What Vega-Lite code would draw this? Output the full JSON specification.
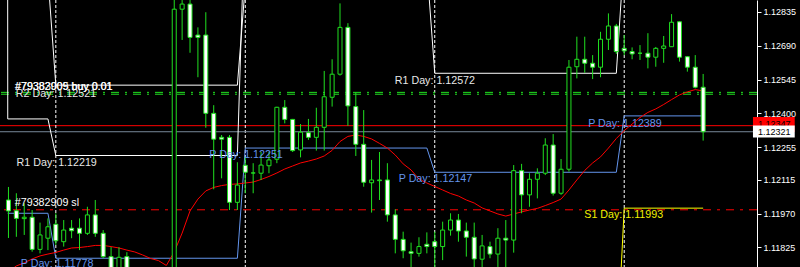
{
"$schema":"https://vega.github.io/schema/vega-lite/v6.json",
"width":757,"height":267,
"autosize":{"type":"none"},
"padding":{"left":0,"top":0,"right":43,"bottom":0},
"background":"#000000",
"view":{"stroke":null},
"config":{"axisY":{"domainColor":"#ffffff","tickColor":"#ffffff","labelColor":"#ffffff","labelFont":"Liberation Sans","labelFontSize":9,"tickSize":4,"labelPadding":2,"grid":false,"labelOverlap":false,"labelFlush":false,"labelBound":false,"domainWidth":1,"tickWidth":1}},
"datasets":{
"seps":[{"k":6},{"k":30},{"k":54},{"k":78}],
"levels":[{"level":"ask","p":1.12347},{"level":"bid","p":1.12321},{"level":"order","p":1.12490},{"level":"order","p":1.12482},{"level":"sl","p":1.11986}],
"pivots":[
{"s":"R1","k":-0.1,"p":1.1300},{"s":"R1","k":-0.09,"p":1.12376},{"s":"R1","k":5,"p":1.12376},{"s":"R1","k":6,"p":1.12219},{"s":"R1","k":29,"p":1.12219},{"s":"R1","k":30,"p":1.1330},{"s":"R1","k":53,"p":1.1303},{"s":"R1","k":54,"p":1.12572},{"s":"R1","k":77,"p":1.12572},{"s":"R1","k":78,"p":1.1309},
{"s":"R2","k":5,"p":1.12987},{"s":"R2","k":6,"p":1.12521},{"s":"R2","k":29,"p":1.12521},{"s":"R2","k":30,"p":1.1295},
{"s":"P","k":-0.1,"p":1.11971},{"s":"P","k":5,"p":1.11971},{"s":"P","k":6,"p":1.11778},{"s":"P","k":29,"p":1.11778},{"s":"P","k":30,"p":1.12251},{"s":"P","k":53,"p":1.12251},{"s":"P","k":54,"p":1.12147},{"s":"P","k":77,"p":1.12147},{"s":"P","k":78,"p":1.12389},{"s":"P","k":88,"p":1.12389},
{"s":"S1","k":77,"p":1.1132},{"s":"S1","k":78,"p":1.11993},{"s":"S1","k":88,"p":1.11993}],
"ma":[{"k":0,"p":1.11719},{"k":1,"p":1.11745},{"k":2,"p":1.11758},{"k":3,"p":1.11775},{"k":4,"p":1.11788},{"k":5,"p":1.11796},{"k":6,"p":1.11803},{"k":7,"p":1.11813},{"k":8,"p":1.11822},{"k":9,"p":1.11824},{"k":10,"p":1.11828},{"k":11,"p":1.11833},{"k":12,"p":1.11833},{"k":13,"p":1.11828},{"k":14,"p":1.11822},{"k":15,"p":1.11813},{"k":16,"p":1.11805},{"k":17,"p":1.11792},{"k":18,"p":1.11777},{"k":19,"p":1.11768},{"k":20,"p":1.11747},{"k":21,"p":1.11805},{"k":22,"p":1.11886},{"k":23,"p":1.11981},{"k":24,"p":1.12032},{"k":25,"p":1.12067},{"k":26,"p":1.12082},{"k":27,"p":1.12090},{"k":28,"p":1.12095},{"k":29,"p":1.12097},{"k":30,"p":1.12101},{"k":31,"p":1.12105},{"k":32,"p":1.12116},{"k":33,"p":1.12129},{"k":34,"p":1.12144},{"k":35,"p":1.12161},{"k":36,"p":1.12174},{"k":37,"p":1.12187},{"k":38,"p":1.12195},{"k":39,"p":1.12204},{"k":40,"p":1.12217},{"k":41,"p":1.12241},{"k":42,"p":1.12279},{"k":43,"p":1.12301},{"k":44,"p":1.12307},{"k":45,"p":1.12301},{"k":46,"p":1.12290},{"k":47,"p":1.12271},{"k":48,"p":1.12251},{"k":49,"p":1.12221},{"k":50,"p":1.12183},{"k":51,"p":1.12157},{"k":52,"p":1.12118},{"k":53,"p":1.12101},{"k":54,"p":1.12086},{"k":55,"p":1.12071},{"k":56,"p":1.12056},{"k":57,"p":1.12045},{"k":58,"p":1.12028},{"k":59,"p":1.12015},{"k":60,"p":1.11994},{"k":61,"p":1.11981},{"k":62,"p":1.11968},{"k":63,"p":1.11959},{"k":64,"p":1.11968},{"k":65,"p":1.11977},{"k":66,"p":1.11985},{"k":67,"p":1.11992},{"k":68,"p":1.12004},{"k":69,"p":1.12017},{"k":70,"p":1.12032},{"k":71,"p":1.12071},{"k":72,"p":1.12114},{"k":73,"p":1.12155},{"k":74,"p":1.12187},{"k":75,"p":1.12213},{"k":76,"p":1.12251},{"k":77,"p":1.12292},{"k":78,"p":1.12326},{"k":79,"p":1.12354},{"k":80,"p":1.12382},{"k":81,"p":1.12404},{"k":82,"p":1.12419},{"k":83,"p":1.12438},{"k":84,"p":1.12459},{"k":85,"p":1.12479},{"k":86,"p":1.12492},{"k":87,"p":1.12502},{"k":88,"p":1.12496}],
"candles":[
{"k":0,"o":1.12028,"h":1.12084,"l":1.11865,"c":1.11981},
{"k":1,"o":1.11982,"h":1.12057,"l":1.11870,"c":1.11949},
{"k":2,"o":1.11948,"h":1.12014,"l":1.11878,"c":1.11954},
{"k":3,"o":1.11954,"h":1.11985,"l":1.11806,"c":1.11816},
{"k":4,"o":1.11816,"h":1.11931,"l":1.11799,"c":1.11878},
{"k":5,"o":1.11864,"h":1.11949,"l":1.11813,"c":1.11913},
{"k":6,"o":1.11924,"h":1.11971,"l":1.11835,"c":1.11853},
{"k":7,"o":1.11849,"h":1.11942,"l":1.11828,"c":1.11899},
{"k":8,"o":1.11907,"h":1.11942,"l":1.11864,"c":1.11896},
{"k":9,"o":1.11907,"h":1.11949,"l":1.11813,"c":1.11885},
{"k":10,"o":1.11885,"h":1.11999,"l":1.11878,"c":1.11964},
{"k":11,"o":1.11964,"h":1.12028,"l":1.11870,"c":1.11885},
{"k":12,"o":1.11885,"h":1.11899,"l":1.11778,"c":1.11785},
{"k":13,"o":1.11785,"h":1.11826,"l":1.11719,"c":1.11736},
{"k":14,"o":1.11736,"h":1.11825,"l":1.11719,"c":1.11782},
{"k":15,"o":1.11785,"h":1.11804,"l":1.11719,"c":1.11736},
{"k":16,"o":1.11736,"h":1.11738,"l":1.11660,"c":1.11690},
{"k":17,"o":1.11690,"h":1.11720,"l":1.11640,"c":1.11700},
{"k":18,"o":1.11700,"h":1.11725,"l":1.11620,"c":1.11650},
{"k":19,"o":1.11650,"h":1.11700,"l":1.11600,"c":1.11680},
{"k":20,"o":1.11680,"h":1.11710,"l":1.11580,"c":1.11620},
{"k":21,"o":1.11620,"h":1.12895,"l":1.11600,"c":1.12847},
{"k":22,"o":1.12847,"h":1.12895,"l":1.12715,"c":1.12869},
{"k":23,"o":1.12869,"h":1.12890,"l":1.12660,"c":1.12726},
{"k":24,"o":1.12736,"h":1.12769,"l":1.12555,"c":1.12726},
{"k":25,"o":1.12736,"h":1.12834,"l":1.12338,"c":1.12400},
{"k":26,"o":1.12400,"h":1.12435,"l":1.12074,"c":1.12289},
{"k":27,"o":1.12297,"h":1.12307,"l":1.12121,"c":1.12289},
{"k":28,"o":1.12297,"h":1.12307,"l":1.11985,"c":1.12018},
{"k":29,"o":1.12018,"h":1.12190,"l":1.11985,"c":1.12092},
{"k":30,"o":1.12177,"h":1.12214,"l":1.12057,"c":1.12147},
{"k":31,"o":1.12144,"h":1.12186,"l":1.12057,"c":1.12144},
{"k":32,"o":1.12143,"h":1.12235,"l":1.12114,"c":1.12178},
{"k":33,"o":1.12175,"h":1.12235,"l":1.12143,"c":1.12200},
{"k":34,"o":1.12203,"h":1.12428,"l":1.12186,"c":1.12426},
{"k":35,"o":1.12426,"h":1.12457,"l":1.12357,"c":1.12374},
{"k":36,"o":1.12374,"h":1.12376,"l":1.12234,"c":1.12240},
{"k":37,"o":1.12243,"h":1.12354,"l":1.12211,"c":1.12319},
{"k":38,"o":1.12317,"h":1.12376,"l":1.12286,"c":1.12297},
{"k":39,"o":1.12297,"h":1.12424,"l":1.12240,"c":1.12340},
{"k":40,"o":1.12340,"h":1.12582,"l":1.12240,"c":1.12471},
{"k":41,"o":1.12469,"h":1.12632,"l":1.12429,"c":1.12568},
{"k":42,"o":1.12568,"h":1.12872,"l":1.12562,"c":1.12769},
{"k":43,"o":1.12769,"h":1.12787,"l":1.12346,"c":1.12432},
{"k":44,"o":1.12429,"h":1.12489,"l":1.12217,"c":1.12267},
{"k":45,"o":1.12267,"h":1.12414,"l":1.12085,"c":1.12104},
{"k":46,"o":1.12102,"h":1.12200,"l":1.11974,"c":1.12114},
{"k":47,"o":1.12111,"h":1.12234,"l":1.12028,"c":1.12114},
{"k":48,"o":1.12114,"h":1.12186,"l":1.11935,"c":1.11964},
{"k":49,"o":1.11964,"h":1.11988,"l":1.11799,"c":1.11859},
{"k":50,"o":1.11859,"h":1.11892,"l":1.11778,"c":1.11810},
{"k":51,"o":1.11806,"h":1.11845,"l":1.11728,"c":1.11799},
{"k":52,"o":1.11799,"h":1.11868,"l":1.11785,"c":1.11828},
{"k":53,"o":1.11838,"h":1.11889,"l":1.11799,"c":1.11828},
{"k":54,"o":1.11849,"h":1.11892,"l":1.11728,"c":1.11828},
{"k":55,"o":1.11828,"h":1.11935,"l":1.11770,"c":1.11899},
{"k":56,"o":1.11899,"h":1.11971,"l":1.11875,"c":1.11942},
{"k":57,"o":1.11942,"h":1.11968,"l":1.11849,"c":1.11895},
{"k":58,"o":1.11895,"h":1.11931,"l":1.11785,"c":1.11868},
{"k":59,"o":1.11868,"h":1.11931,"l":1.11728,"c":1.11775},
{"k":60,"o":1.11774,"h":1.11878,"l":1.11728,"c":1.11831},
{"k":61,"o":1.11828,"h":1.11849,"l":1.11778,"c":1.11796},
{"k":62,"o":1.11796,"h":1.11907,"l":1.11728,"c":1.11864},
{"k":63,"o":1.11864,"h":1.11942,"l":1.11728,"c":1.11856},
{"k":64,"o":1.11856,"h":1.12178,"l":1.11802,"c":1.12154},
{"k":65,"o":1.12154,"h":1.12183,"l":1.11971,"c":1.12050},
{"k":66,"o":1.12050,"h":1.12143,"l":1.11999,"c":1.12117},
{"k":67,"o":1.12117,"h":1.12164,"l":1.12035,"c":1.12143},
{"k":68,"o":1.12143,"h":1.12293,"l":1.12135,"c":1.12264},
{"k":69,"o":1.12264,"h":1.12311,"l":1.12047,"c":1.12057},
{"k":70,"o":1.12057,"h":1.12204,"l":1.12050,"c":1.12160},
{"k":71,"o":1.12160,"h":1.12629,"l":1.12150,"c":1.12598},
{"k":72,"o":1.12600,"h":1.12729,"l":1.12550,"c":1.12632},
{"k":73,"o":1.12632,"h":1.12729,"l":1.12574,"c":1.12615},
{"k":74,"o":1.12615,"h":1.12650,"l":1.12547,"c":1.12598},
{"k":75,"o":1.12598,"h":1.12750,"l":1.12555,"c":1.12718},
{"k":76,"o":1.12718,"h":1.12829,"l":1.12672,"c":1.12775},
{"k":77,"o":1.12775,"h":1.12784,"l":1.12655,"c":1.12665},
{"k":78,"o":1.12679,"h":1.12736,"l":1.12650,"c":1.12668},
{"k":79,"o":1.12665,"h":1.12683,"l":1.12632,"c":1.12655},
{"k":80,"o":1.12658,"h":1.12693,"l":1.12629,"c":1.12658},
{"k":81,"o":1.12658,"h":1.12744,"l":1.12593,"c":1.12641},
{"k":82,"o":1.12641,"h":1.12685,"l":1.12600,"c":1.12679},
{"k":83,"o":1.12679,"h":1.12732,"l":1.12617,"c":1.12689},
{"k":84,"o":1.12686,"h":1.12826,"l":1.12686,"c":1.12791},
{"k":85,"o":1.12793,"h":1.12795,"l":1.12622,"c":1.12641},
{"k":86,"o":1.12643,"h":1.12645,"l":1.12579,"c":1.12598},
{"k":87,"o":1.12598,"h":1.12650,"l":1.12507,"c":1.12512},
{"k":88,"o":1.12512,"h":1.12569,"l":1.12283,"c":1.12321}],
"labels":[
{"kind":"R","t":"R2 Day: 1.12521","k":0.94,"p":1.12483},
{"kind":"order","t":"#79382909 buy 0.01","k":0.81,"p":1.12513},
{"kind":"order","t":"#79383005 buy 0.01","k":0.86,"p":1.12511},
{"kind":"R","t":"R1 Day: 1.12219","k":1.03,"p":1.12186},
{"kind":"order","t":"#79382909 sl","k":0.81,"p":1.12013},
{"kind":"P","t":"P Day: 1.11778","k":1.56,"p":1.11753},
{"kind":"P","t":"P Day: 1.12251","k":25.44,"p":1.12221},
{"kind":"P","t":"P Day: 1.12147","k":49.44,"p":1.12118},
{"kind":"P","t":"P Day: 1.12389","k":73.44,"p":1.12353},
{"kind":"R","t":"R1 Day: 1.12572","k":48.94,"p":1.12540},
{"kind":"S","t":"S1 Day: 1.11993","k":72.94,"p":1.11964}],
"tags":[
{"tag":"ask","k1":94.31,"k2":99.6,"p1":1.12384,"p2":1.12320,"t":"1.12347","tk":94.94,"tp":1.12356},
{"tag":"bid","k1":94.31,"k2":99.6,"p1":1.12348,"p2":1.12296,"t":"1.12321","tk":94.94,"tp":1.12321}]
},
"layer":[
{"data":{"name":"levels"},"transform":[{"filter":"datum.level=='ask'"}],"mark":{"type":"rule","color":"#ff0000","strokeWidth":1},
 "encoding":{"y":{"field":"p","type":"quantitative","scale":{"domain":[1.117404,1.128865],"nice":false,"zero":false},"axis":{"orient":"right","title":null,"values":[1.12835,1.1269,1.12545,1.124,1.12255,1.12115,1.1197,1.11825],"format":".5f","labelOverlap":false,"labelFlush":false,"labelBound":false,"tickCount":8}}}},
{"data":{"name":"seps"},"mark":{"type":"rule","color":"#ffffff","strokeDash":[3,2],"strokeWidth":1},
 "encoding":{"x":{"field":"k","type":"quantitative","scale":{"domain":[-0.4375,94.1875],"nice":false,"zero":false},"axis":null}}},
{"data":{"name":"levels"},"transform":[{"filter":"datum.level=='bid'"}],"mark":{"type":"rule","color":"#778899","strokeWidth":1},
 "encoding":{"y":{"field":"p","type":"quantitative","scale":{"domain":[1.117404,1.128865],"nice":false,"zero":false}}}},
{"data":{"name":"levels"},"transform":[{"filter":"datum.level=='order'"}],"mark":{"type":"rule","color":"#20e020","strokeWidth":1,"strokeDash":[8,6,2,6]},
 "encoding":{"y":{"field":"p","type":"quantitative","scale":{"domain":[1.117404,1.128865],"nice":false,"zero":false}}}},
{"data":{"name":"levels"},"transform":[{"filter":"datum.level=='sl'"}],"mark":{"type":"rule","color":"#ff0000","strokeWidth":1,"strokeDash":[8,6,3,6]},
 "encoding":{"y":{"field":"p","type":"quantitative","scale":{"domain":[1.117404,1.128865],"nice":false,"zero":false}}}},
{"data":{"name":"pivots"},"transform":[{"filter":"datum.s=='R1' || datum.s=='R2'"}],"mark":{"type":"line","color":"#ffffff","strokeWidth":1,"clip":true},
 "encoding":{"x":{"field":"k","type":"quantitative","scale":{"domain":[-0.4375,94.1875],"nice":false,"zero":false},"axis":null},
 "y":{"field":"p","type":"quantitative","scale":{"domain":[1.117404,1.128865],"nice":false,"zero":false}},"detail":{"field":"s"},"order":{"field":"k","type":"quantitative"}}},
{"data":{"name":"pivots"},"transform":[{"filter":"datum.s=='P'"}],"mark":{"type":"line","color":"#6495ed","strokeWidth":1,"clip":true},
 "encoding":{"x":{"field":"k","type":"quantitative","scale":{"domain":[-0.4375,94.1875],"nice":false,"zero":false},"axis":null},
 "y":{"field":"p","type":"quantitative","scale":{"domain":[1.117404,1.128865],"nice":false,"zero":false}},"order":{"field":"k","type":"quantitative"}}},
{"data":{"name":"pivots"},"transform":[{"filter":"datum.s=='S1'"}],"mark":{"type":"line","color":"#ffff00","strokeWidth":1,"clip":true},
 "encoding":{"x":{"field":"k","type":"quantitative","scale":{"domain":[-0.4375,94.1875],"nice":false,"zero":false},"axis":null},
 "y":{"field":"p","type":"quantitative","scale":{"domain":[1.117404,1.128865],"nice":false,"zero":false}},"order":{"field":"k","type":"quantitative"}}},
{"data":{"name":"ma"},"mark":{"type":"line","color":"#ff0000","strokeWidth":1,"clip":true},
 "encoding":{"x":{"field":"k","type":"quantitative","scale":{"domain":[-0.4375,94.1875],"nice":false,"zero":false},"axis":null},
 "y":{"field":"p","type":"quantitative","scale":{"domain":[1.117404,1.128865],"nice":false,"zero":false}}}},
{"data":{"name":"candles"},"mark":{"type":"rule","color":"#20e020","strokeWidth":1,"clip":true},
 "encoding":{"x":{"field":"k","type":"quantitative","scale":{"domain":[-0.4375,94.1875],"nice":false,"zero":false},"axis":null},
 "y":{"field":"l","type":"quantitative","scale":{"domain":[1.117404,1.128865],"nice":false,"zero":false}},"y2":{"field":"h"}}},
{"data":{"name":"candles"},"transform":[{"filter":"datum.c < datum.o"}],"mark":{"type":"bar","orient":"vertical","size":4,"fill":"#ffffff","stroke":"#20e020","strokeWidth":1,"clip":true},
 "encoding":{"x":{"field":"k","type":"quantitative","scale":{"domain":[-0.4375,94.1875],"nice":false,"zero":false},"axis":null},
 "y":{"field":"o","type":"quantitative","scale":{"domain":[1.117404,1.128865],"nice":false,"zero":false}},"y2":{"field":"c"}}},
{"data":{"name":"candles"},"transform":[{"filter":"datum.c >= datum.o"}],"mark":{"type":"bar","orient":"vertical","size":4,"fill":"#000000","stroke":"#20e020","strokeWidth":1,"clip":true},
 "encoding":{"x":{"field":"k","type":"quantitative","scale":{"domain":[-0.4375,94.1875],"nice":false,"zero":false},"axis":null},
 "y":{"field":"o","type":"quantitative","scale":{"domain":[1.117404,1.128865],"nice":false,"zero":false}},"y2":{"field":"c"}}},
{"data":{"name":"labels"},"transform":[{"filter":"datum.kind=='R'"}],"mark":{"type":"text","color":"#e8e8e8","font":"Liberation Sans","fontSize":10.7,"align":"left","baseline":"middle","clip":true},
 "encoding":{"x":{"field":"k","type":"quantitative","scale":{"domain":[-0.4375,94.1875],"nice":false,"zero":false},"axis":null},
 "y":{"field":"p","type":"quantitative","scale":{"domain":[1.117404,1.128865],"nice":false,"zero":false}},"text":{"field":"t"}}},
{"data":{"name":"labels"},"transform":[{"filter":"datum.kind=='order'"}],"mark":{"type":"text","color":"#ffffff","font":"Liberation Sans","fontSize":10.7,"align":"left","baseline":"middle","clip":true},
 "encoding":{"x":{"field":"k","type":"quantitative","scale":{"domain":[-0.4375,94.1875],"nice":false,"zero":false},"axis":null},
 "y":{"field":"p","type":"quantitative","scale":{"domain":[1.117404,1.128865],"nice":false,"zero":false}},"text":{"field":"t"}}},
{"data":{"name":"labels"},"transform":[{"filter":"datum.kind=='P'"}],"mark":{"type":"text","color":"#6495ed","font":"Liberation Sans","fontSize":10.7,"align":"left","baseline":"middle","clip":true},
 "encoding":{"x":{"field":"k","type":"quantitative","scale":{"domain":[-0.4375,94.1875],"nice":false,"zero":false},"axis":null},
 "y":{"field":"p","type":"quantitative","scale":{"domain":[1.117404,1.128865],"nice":false,"zero":false}},"text":{"field":"t"}}},
{"data":{"name":"labels"},"transform":[{"filter":"datum.kind=='S'"}],"mark":{"type":"text","color":"#f0f000","font":"Liberation Sans","fontSize":10.7,"align":"left","baseline":"middle","clip":true},
 "encoding":{"x":{"field":"k","type":"quantitative","scale":{"domain":[-0.4375,94.1875],"nice":false,"zero":false},"axis":null},
 "y":{"field":"p","type":"quantitative","scale":{"domain":[1.117404,1.128865],"nice":false,"zero":false}},"text":{"field":"t"}}},
{"data":{"name":"tags"},"transform":[{"filter":"datum.tag=='ask'"}],"mark":{"type":"rect","fill":"#ff0000","clip":false},
 "encoding":{"x":{"field":"k1","type":"quantitative","scale":{"domain":[-0.4375,94.1875],"nice":false,"zero":false},"axis":null},"x2":{"field":"k2"},
 "y":{"field":"p1","type":"quantitative","scale":{"domain":[1.117404,1.128865],"nice":false,"zero":false}},"y2":{"field":"p2"}}},
{"data":{"name":"tags"},"transform":[{"filter":"datum.tag=='ask'"}],"mark":{"type":"text","color":"#000000","font":"Liberation Sans","fontSize":9,"align":"left","baseline":"middle","clip":false},
 "encoding":{"x":{"field":"tk","type":"quantitative","scale":{"domain":[-0.4375,94.1875],"nice":false,"zero":false},"axis":null},
 "y":{"field":"tp","type":"quantitative","scale":{"domain":[1.117404,1.128865],"nice":false,"zero":false}},"text":{"field":"t"}}},
{"data":{"name":"tags"},"transform":[{"filter":"datum.tag=='bid'"}],"mark":{"type":"rect","fill":"#ffffff","clip":false},
 "encoding":{"x":{"field":"k1","type":"quantitative","scale":{"domain":[-0.4375,94.1875],"nice":false,"zero":false},"axis":null},"x2":{"field":"k2"},
 "y":{"field":"p1","type":"quantitative","scale":{"domain":[1.117404,1.128865],"nice":false,"zero":false}},"y2":{"field":"p2"}}},
{"data":{"name":"tags"},"transform":[{"filter":"datum.tag=='bid'"}],"mark":{"type":"text","color":"#000000","font":"Liberation Sans","fontSize":9,"align":"left","baseline":"middle","clip":false},
 "encoding":{"x":{"field":"tk","type":"quantitative","scale":{"domain":[-0.4375,94.1875],"nice":false,"zero":false},"axis":null},
 "y":{"field":"tp","type":"quantitative","scale":{"domain":[1.117404,1.128865],"nice":false,"zero":false}},"text":{"field":"t"}}}
]
}
